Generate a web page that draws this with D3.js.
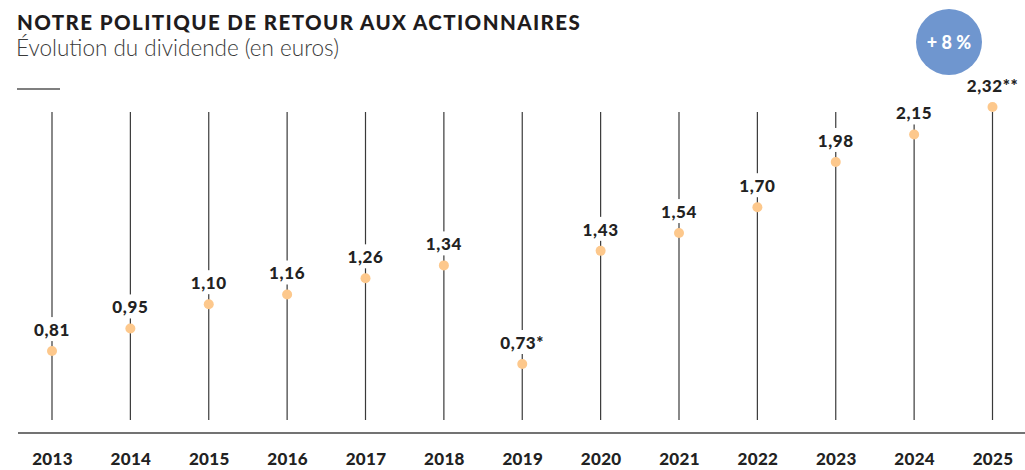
<!DOCTYPE html>
<html>
<head>
<meta charset="utf-8">
<script src="https://cdn.jsdelivr.net/npm/d3@7"></script>
<style>
  html, body { margin: 0; padding: 0; background: #fff; }
  svg { display: block; }
</style>
</head>
<body>
<svg id="chart" width="1025" height="470"></svg>
<script>
const years = ["2013","2014","2015","2016","2017","2018","2019","2020","2021","2022","2023","2024","2025"];
const dividends = [0.81, 0.95, 1.10, 1.16, 1.26, 1.34, 0.73, 1.43, 1.54, 1.70, 1.98, 2.15, 2.32];
const labels = ["0,81","0,95","1,10","1,16","1,26","1,34","0,73*","1,43","1,54","1,70","1,98","2,15","2,32**"];
const title = "NOTRE POLITIQUE DE RETOUR AUX ACTIONNAIRES";
const subtitle = "Évolution du dividende (en euros)";
const badge = "+ 8 %";

const svg = d3.select("#chart");
const font = "Lato, 'Source Sans Pro', 'Noto Sans', sans-serif";

// Title & subtitle
svg.append("text").attr("x", 17).attr("y", 29.5)
  .attr("font-family", font).attr("font-weight", 900).attr("font-size", 20.5)
  .attr("letter-spacing", 1.4).attr("fill", "#1f1c1d").text(title);
svg.append("text").attr("x", 16).attr("y", 56)
  .attr("font-family", font).attr("font-weight", 300).attr("font-size", 22.5)
  .attr("fill", "#3a3a3a").text(subtitle);
svg.append("line").attr("x1", 17).attr("x2", 60).attr("y1", 89).attr("y2", 89)
  .attr("stroke", "#555").attr("stroke-width", 1.4);

// Badge
const bx = 949, by = 42;
svg.append("circle").attr("cx", bx).attr("cy", by).attr("r", 33).attr("fill", "#6f96cf");
svg.append("text").attr("x", bx).attr("y", by + 6.5).attr("text-anchor", "middle")
  .attr("font-family", font).attr("font-weight", 900).attr("font-size", 18)
  .attr("fill", "#fff").text(badge);

// Scales
const x = d3.scalePoint().domain(years).range([52, 992.5]);
const y = d3.scaleLinear().domain([0.73, 2.32]).range([364, 107]);

const lineTop = 112, lineBottom = 420, baseY = 433;

// Baseline axis
const axis = d3.axisBottom(x).tickSize(0).tickPadding(0);
const gAxis = svg.append("g").attr("transform", `translate(0,${baseY})`).call(axis);
gAxis.select(".domain").remove();
svg.append("line").attr("x1", 18).attr("x2", 1025).attr("y1", baseY).attr("y2", baseY)
  .attr("stroke", "#444").attr("stroke-width", 1.5);
gAxis.selectAll(".tick text")
  .attr("y", 32).attr("dy", 0)
  .attr("font-family", font).attr("font-weight", 900).attr("font-size", 17)
  .attr("letter-spacing", 0.3)
  .attr("fill", "#222");

const data = years.map((yr, i) => ({ yr, v: dividends[i], label: labels[i] }));

// Stems
svg.append("g").selectAll("line").data(data).join("line")
  .attr("x1", d => x(d.yr)).attr("x2", d => x(d.yr))
  .attr("y1", lineTop).attr("y2", lineBottom)
  .attr("stroke", "#3a3a3a").attr("stroke-width", 1.2);

// Labels with white background
const gl = svg.append("g");
data.forEach(d => {
  const g = gl.append("g");
  const rect = g.append("rect").attr("fill", "#fff");
  const t = g.append("text")
    .attr("x", x(d.yr)).attr("y", y(d.v) - 15)
    .attr("text-anchor", "middle")
    .attr("font-family", font).attr("font-weight", 900).attr("font-size", 17)
    .attr("letter-spacing", 0.6)
    .attr("fill", "#222").text(d.label);
  const bb = t.node().getBBox();
  rect.attr("x", bb.x - 3).attr("y", y(d.v) - 15 - 19).attr("width", bb.width + 6).attr("height", 24);
});

// Dots
svg.append("g").selectAll("circle").data(data).join("circle")
  .attr("cx", d => x(d.yr)).attr("cy", d => y(d.v)).attr("r", 5)
  .attr("fill", "#fdc88c");
</script>
</body>
</html>
